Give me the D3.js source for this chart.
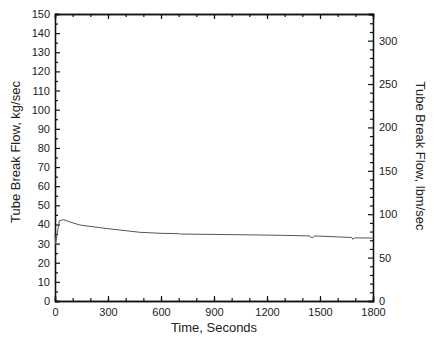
<!DOCTYPE html>
<html><head><meta charset="utf-8">
<script src="https://cdn.jsdelivr.net/npm/d3@7"></script>
<style>body{margin:0;background:#fff}svg{display:block}text{font-family:"Liberation Sans",Arial,sans-serif;fill:#222}</style>
</head><body>
<script>
const times =  [0, 3, 25, 50, 85, 141, 300, 481, 594, 700, 705, 900, 1160, 1300, 1440, 1455, 1470, 1600, 1680, 1687, 1695, 1800];
const flowKg = [35, 30, 42, 42.5, 41.3, 39.7, 37.8, 35.9, 35.4, 35.2, 35.0, 34.8, 34.5, 34.3, 34.0, 33.0, 34.0, 33.5, 33.2, 32.2, 33.0, 32.9];
const xTicks = [0, 300, 600, 900, 1200, 1500, 1800];
const yTicksLeft = d3.range(0, 151, 10);
const yTicksRight = [0, 50, 100, 150, 200, 250, 300];
const KG_TO_LBM = 2.20462;

const W = 433, H = 339;
const m = {l: 55, r: 373, t: 14, b: 301};
const svg = d3.select("body").append("svg").attr("width", W).attr("height", H);
const x = d3.scaleLinear().domain([0, 1800]).range([m.l, m.r]);
const y = d3.scaleLinear().domain([0, 150]).range([m.b, m.t]);
const y2 = d3.scaleLinear().domain([0, 150 * KG_TO_LBM]).range([m.b, m.t]);

// axes
svg.append("g").attr("transform", `translate(0,${m.b})`)
  .call(d3.axisBottom(x).tickValues(xTicks).tickSize(-5).tickPadding(7).tickFormat(d3.format("d")));
svg.append("g").attr("transform", `translate(0,${m.b})`)
  .call(d3.axisBottom(x).tickValues(d3.range(0, 1801, 100)).tickSize(-3).tickFormat(""));
svg.append("g").attr("transform", `translate(0,${m.t})`)
  .call(d3.axisTop(x).tickValues(xTicks).tickSize(-5).tickFormat(""));
svg.append("g").attr("transform", `translate(0,${m.t})`)
  .call(d3.axisTop(x).tickValues(d3.range(0, 1801, 100)).tickSize(-3).tickFormat(""));
svg.append("g").attr("transform", `translate(${m.l},0)`)
  .call(d3.axisLeft(y).tickValues(yTicksLeft).tickSize(-5).tickPadding(5));
svg.append("g").attr("transform", `translate(${m.l},0)`)
  .call(d3.axisLeft(y).tickValues(d3.range(5, 150, 10)).tickSize(-3).tickFormat(""));
svg.append("g").attr("transform", `translate(${m.r},0)`)
  .call(d3.axisRight(y2).tickValues(yTicksRight).tickSize(-5).tickPadding(6));
svg.append("g").attr("transform", `translate(${m.r},0)`)
  .call(d3.axisRight(y2).tickValues(d3.range(0, 331, 10).filter(d => d % 50)).tickSize(-3).tickFormat(""));

svg.selectAll(".domain").attr("stroke", "#111").attr("stroke-width", 1.3);
svg.selectAll(".tick line").attr("stroke", "#111").attr("stroke-width", 1.2);
svg.selectAll(".tick text").style("font-size", "11px").style("font-family", "Liberation Sans, Arial, sans-serif").attr("fill", "#222");

// line
const line = d3.line().x((d, i) => x(times[i])).y(d => y(d));
svg.append("path").datum(flowKg).attr("d", line).attr("fill", "none").attr("stroke", "#555").attr("stroke-width", 1);

// titles
svg.append("text").attr("x", 214).attr("y", 332).attr("text-anchor", "middle").style("font-size", "13px").text("Time, Seconds");
svg.append("text").attr("transform", `translate(20,152) rotate(-90)`).attr("text-anchor", "middle").style("font-size", "13px").text("Tube Break Flow, kg/sec");
svg.append("text").attr("transform", `translate(416,156) rotate(90)`).attr("text-anchor", "middle").style("font-size", "13px").text("Tube Break Flow, lbm/sec");
</script>
</body></html>
